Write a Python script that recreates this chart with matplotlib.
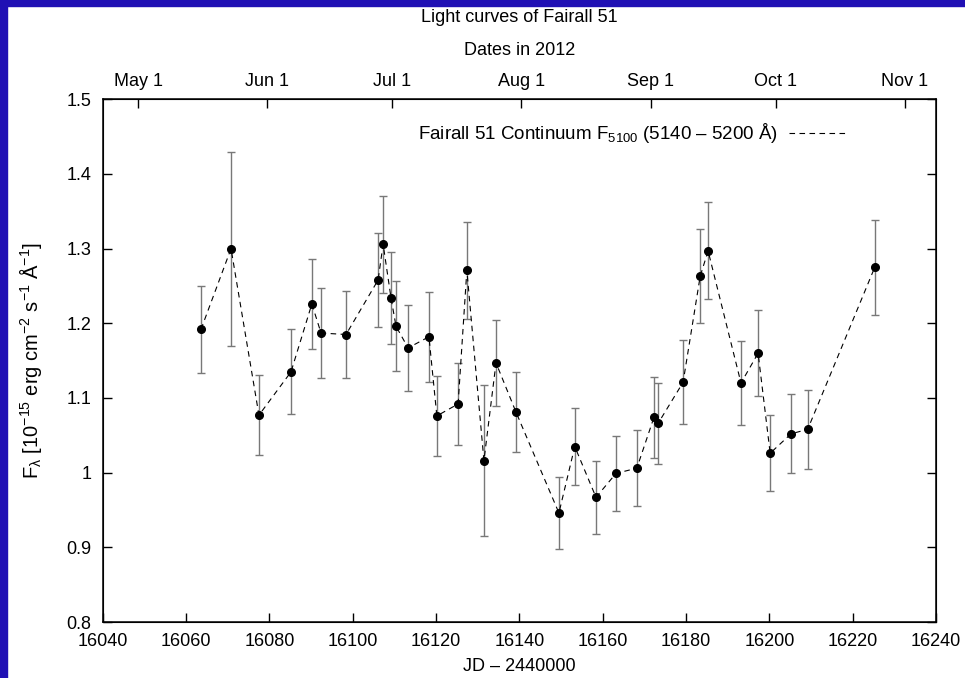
import matplotlib.pyplot as plt
from matplotlib.patches import Rectangle

plt.rcParams['font.family'] = ['Liberation Sans', 'DejaVu Sans']
plt.rcParams['mathtext.fontset'] = 'custom'
plt.rcParams['mathtext.rm'] = 'Liberation Sans'
plt.rcParams['mathtext.it'] = 'Liberation Sans'
plt.rcParams['mathtext.default'] = 'regular'

# JD - 2440000
jd = [16063.6, 16070.8, 16077.5, 16085.2, 16090.2, 16092.4, 16098.4, 16106.1,
      16107.3, 16109.2, 16110.4, 16113.3, 16118.3, 16120.2, 16125.3, 16127.4,
      16131.5, 16134.4, 16139.2, 16149.5, 16153.3, 16158.4, 16163.2, 16168.2,
      16172.3, 16173.3, 16179.3, 16183.4, 16185.3, 16193.2, 16197.3, 16200.2,
      16205.2, 16209.2, 16225.3]
# flux 10^-15 erg/cm2/s/A
flux = [1.192, 1.300, 1.077, 1.135, 1.226, 1.187, 1.185, 1.258,
        1.306, 1.234, 1.196, 1.167, 1.182, 1.076, 1.092, 1.271,
        1.016, 1.147, 1.081, 0.946, 1.035, 0.967, 0.999, 1.006,
        1.074, 1.066, 1.121, 1.263, 1.297, 1.120, 1.160, 1.026,
        1.052, 1.058, 1.275]
err = [0.058, 0.130, 0.054, 0.057, 0.060, 0.060, 0.058, 0.063,
       0.065, 0.062, 0.060, 0.058, 0.060, 0.054, 0.055, 0.065,
       0.101, 0.058, 0.054, 0.048, 0.052, 0.049, 0.050, 0.051,
       0.054, 0.054, 0.056, 0.063, 0.065, 0.056, 0.058, 0.051,
       0.053, 0.053, 0.064]

month_jd = [16048.5, 16079.5, 16109.5, 16140.5, 16171.5, 16201.5, 16232.5]
month_lbl = ['May 1', 'Jun 1', 'Jul 1', 'Aug 1', 'Sep 1', 'Oct 1', 'Nov 1']

yt = [0.8, 0.9, 1.0, 1.1, 1.2, 1.3, 1.4, 1.5]
yt_lbl = ['0.8', '0.9', '1', '1.1', '1.2', '1.3', '1.4', '1.5']
xt = list(range(16040, 16241, 20))

fig = plt.figure(figsize=(9.65, 6.78), dpi=100)
# blue frame on top and left
fig.patches.append(Rectangle((0, 0), 7 / 965, 1, transform=fig.transFigure,
                             color='#2010b4', zorder=-1))
fig.patches.append(Rectangle((0, 1 - 6 / 678), 1, 6 / 678, transform=fig.transFigure,
                             color='#2010b4', zorder=-1))

ax = fig.add_axes([102.7 / 965, 1 - 622 / 678, 833.3 / 965, 522.7 / 678])

ax.errorbar(jd, flux, yerr=err, fmt='none', ecolor='#787878', elinewidth=1.0,
            capsize=3, capthick=1.0, zorder=2)
ax.plot(jd, flux, color='black', lw=0.8, dashes=(5, 4),
        label='Fairall 51 Continuum F$_{5100}$ (5140 – 5200 Å)', zorder=3)
ax.plot(jd, flux, 'o', color='black', ms=5.5, zorder=4)

ax.set_xlim(16040, 16240)
ax.set_ylim(0.8, 1.5)
ax.set_xticks(xt)
ax.set_yticks(yt)
ax.set_yticklabels(yt_lbl)
ax.tick_params(direction='in', length=6.5, width=1, labelsize=13, top=False,
               right=True, pad=8)
ax.tick_params(axis='x', pad=8)
for s in ax.spines.values():
    s.set_linewidth(1.1)

ax.set_xlabel('JD – 2440000', fontsize=13, labelpad=6)
ax.set_ylabel('F$_{λ}$ [10$^{-15}$ erg cm$^{-2}$ s$^{-1}$ Å$^{-1}$]', fontsize=14.5, labelpad=16)

ax2 = ax.twiny()
ax2.set_xlim(ax.get_xlim())
ax2.set_xticks(month_jd)
ax2.set_xticklabels(month_lbl)
ax2.tick_params(direction='in', length=6.5, width=1, labelsize=13, pad=7)
ax2.set_xlabel('Dates in 2012', fontsize=13, labelpad=13)

fig.text(519 / 965, 1 - 18 / 678, 'Light curves of Fairall 51', fontsize=13,
         ha='center', va='center')

leg = ax.legend(loc='center right', bbox_to_anchor=(0.891, 0.935), frameon=False,
                fontsize=13.5, markerfirst=False, handlelength=3.0,
                handletextpad=0.6, borderpad=0, borderaxespad=0)

fig.savefig('out.png', dpi=100)
